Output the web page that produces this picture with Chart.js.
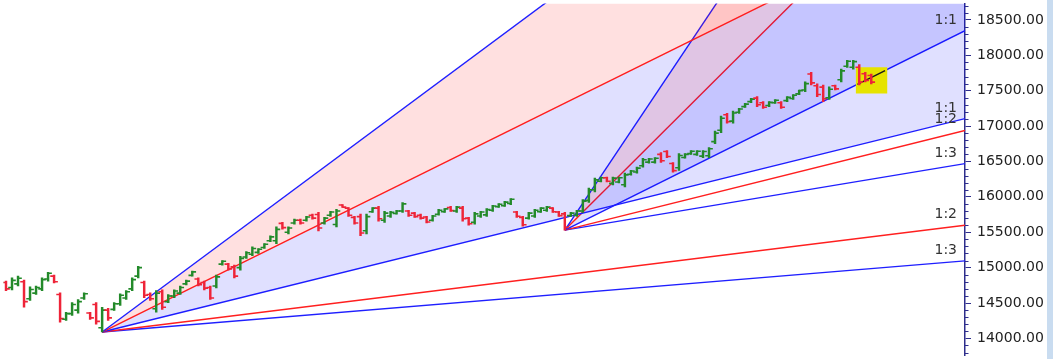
<!DOCTYPE html>
<html>
<head>
<meta charset="utf-8">
<script src="https://cdn.jsdelivr.net/npm/chart.js@4.4.1/dist/chart.umd.min.js"></script>
<style>
    html, body { margin: 0; padding: 0; background: #c9dcf0; }
    #wrap { width: 1047px; height: 359px; background: #ffffff; }
</style>
</head>
<body>
<div id="wrap"><canvas id="gannChart"></canvas></div>
<script>
// Barras OHLC (indice = barra)
const opens = [14680, 14790, 14720, 14770, 14800, 14560, 14640, 14700, 14840, 14880,
    14620, 14270, 14350, 14400, 14570, 14360, 14480, 14150, 14400, 14410,
    14490, 14570, 14700, 14880, 14790, 14620, 14420, 14660, 14520, 14600,
    14640, 14770, 14890, 14840, 14790, 14720, 14740, 15050, 15050, 15010,
    15000, 15150, 15190, 15215, 15285, 15380, 15380, 15625, 15500, 15630,
    15670, 15670, 15740, 15750, 15630, 15740, 15610, 15885, 15840, 15710,
    15720, 15520, 15790, 15840, 15670, 15730, 15765, 15800, 15800, 15770,
    15740, 15715, 15670, 15755, 15790, 15850, 15800, 15840, 15700, 15640,
    15730, 15745, 15810, 15860, 15875, 15905, 15785, 15710, 15700, 15730,
    15790, 15810, 15840, 15785, 15760, 15735, 15740, 15800, 15950, 16100,
    16220, 16270, 16190, 16210, 16170, 16320, 16350, 16440, 16490, 16490,
    16600, 16640, 16470, 16410, 16555, 16610, 16600, 16575, 16580, 16780,
    16940, 17160, 17070, 17195, 17275, 17345, 17395, 17330, 17290, 17330,
    17330, 17360, 17390, 17455, 17510, 17735, 17570, 17550, 17400, 17570,
    17655, 17845, 17830, 17830, 17740, 17715];
const highs = [14855, 14810, 14855, 14880, 14825, 14730, 14740, 14855, 14935, 14895,
    14645, 14370, 14505, 14550, 14645, 14370, 14505, 14440, 14425, 14505,
    14630, 14675, 14855, 15020, 14810, 14645, 14675, 14685, 14620, 14685,
    14740, 14825, 14950, 14855, 14810, 14740, 14895, 15100, 15060, 15035,
    15160, 15225, 15295, 15270, 15340, 15450, 15575, 15640, 15575, 15685,
    15685, 15725, 15755, 15780, 15710, 15795, 15825, 15890, 15850, 15725,
    15755, 15755, 15850, 15865, 15795, 15795, 15810, 15920, 15810, 15780,
    15755, 15725, 15740, 15825, 15835, 15865, 15865, 15865, 15710, 15780,
    15795, 15835, 15880, 15905, 15935, 15975, 15795, 15725, 15780, 15825,
    15850, 15865, 15850, 15795, 15780, 15780, 15810, 15960, 16125, 16265,
    16280, 16280, 16280, 16280, 16335, 16375, 16420, 16545, 16545, 16555,
    16625, 16655, 16485, 16610, 16610, 16655, 16655, 16655, 16695, 16930,
    17140, 17180, 17210, 17250, 17320, 17390, 17415, 17345, 17345, 17375,
    17345, 17415, 17445, 17510, 17625, 17760, 17595, 17580, 17555, 17580,
    17805, 17930, 17930, 17870, 17760, 17735];
const lows = [14605, 14675, 14685, 14740, 14440, 14535, 14620, 14675, 14810, 14785,
    14230, 14255, 14325, 14355, 14550, 14270, 14200, 14090, 14255, 14395,
    14465, 14550, 14675, 14855, 14575, 14535, 14370, 14410, 14505, 14575,
    14620, 14755, 14880, 14740, 14685, 14550, 14715, 15035, 14965, 14855,
    14965, 15130, 15170, 15200, 15270, 15365, 15340, 15545, 15475, 15615,
    15615, 15655, 15685, 15520, 15615, 15725, 15575, 15850, 15725, 15615,
    15450, 15475, 15780, 15655, 15640, 15710, 15755, 15780, 15725, 15710,
    15685, 15630, 15655, 15740, 15780, 15795, 15780, 15655, 15600, 15615,
    15710, 15725, 15795, 15850, 15865, 15890, 15710, 15585, 15685, 15710,
    15780, 15795, 15780, 15725, 15530, 15725, 15725, 15780, 15920, 16070,
    16210, 16210, 16170, 16195, 16140, 16305, 16335, 16420, 16475, 16475,
    16485, 16555, 16350, 16375, 16545, 16600, 16585, 16555, 16555, 16750,
    16905, 17040, 17040, 17180, 17265, 17330, 17275, 17250, 17275, 17320,
    17250, 17345, 17375, 17445, 17485, 17580, 17415, 17345, 17375, 17510,
    17625, 17830, 17805, 17580, 17625, 17595];
const closes = [14790, 14700, 14820, 14850, 14520, 14690, 14720, 14830, 14920, 14800,
    14280, 14350, 14480, 14520, 14630, 14290, 14240, 14400, 14290, 14490,
    14610, 14660, 14830, 15000, 14610, 14560, 14640, 14440, 14600, 14670,
    14720, 14810, 14940, 14760, 14710, 14570, 14870, 15090, 14980, 14880,
    15130, 15210, 15270, 15260, 15330, 15435, 15540, 15565, 15560, 15670,
    15630, 15715, 15700, 15560, 15700, 15785, 15800, 15855, 15740, 15630,
    15490, 15720, 15840, 15690, 15770, 15780, 15800, 15900, 15740, 15720,
    15700, 15645, 15730, 15810, 15830, 15805, 15855, 15690, 15620, 15760,
    15785, 15820, 15870, 15895, 15925, 15965, 15725, 15605, 15770, 15810,
    15840, 15855, 15790, 15735, 15570, 15770, 15800, 15940, 16100, 16240,
    16270, 16220, 16265, 16270, 16310, 16365, 16405, 16525, 16535, 16545,
    16510, 16570, 16370, 16585, 16600, 16645, 16645, 16640, 16680, 16900,
    17110, 17060, 17185, 17240, 17310, 17380, 17300, 17265, 17335, 17365,
    17265, 17405, 17435, 17500, 17600, 17610, 17445, 17385, 17520, 17525,
    17780, 17915, 17910, 17620, 17645, 17620];

// Eixo de preços
const yTicks = [14000, 14500, 15000, 15500, 16000, 16500, 17000, 17500, 18000, 18500];
const yMin = 13760;
const yMax = 18730;
const minorStep = 100;

// Leques de Gann: barra de origem, preço de origem, preço por barra (1:1)
const fanStarts = [17, 94];
const fanPrices = [14090, 15530];
const fanUnits = [21.0, 42.3];
const ratios = [3, 2, 1, 1 / 2, 1 / 3];
const ratioLabels = ['3:1', '2:1', '1:1', '1:2', '1:3'];

// Destaque amarelo nas ultimas barras
const highlightBars = [142.4, 147.7];
const highlightPrices = [17460, 17830];

const xMin = 0.6;
const xMax = 160.6;

const GREEN = '#238a2a';
const RED = '#ee2438';
const BLUE = '#1f1fff';
const LINE_RED = '#ff1f1f';
const AXIS = '#2e2e8c';
const FONT = '"DejaVu Sans", sans-serif';

function fanPrice(f, r, x) {
    return fanPrices[f] + r * fanUnits[f] * (x - fanStarts[f]);
}

// datasets dos leques
const fanDatasets = [];
fanStarts.forEach((start, f) => {
    ratios.forEach((r, k) => {
        let fill = false;
        let bg = 'transparent';
        if (k === 0) { fill = '+1'; bg = 'rgba(255, 0, 0, 0.12)'; }
        if (k === 1) { fill = '+1'; bg = 'rgba(0, 0, 255, 0.12)'; }
        fanDatasets.push({
            type: 'line',
            data: [{x: start, y: fanPrices[f]}, {x: xMax, y: fanPrice(f, r, xMax)}],
            borderColor: (k % 2 === 0) ? BLUE : LINE_RED,
            backgroundColor: bg,
            borderWidth: 1.4,
            pointRadius: 0,
            fill: fill,
            order: 10
        });
    });
});

const barColors = closes.map((c, i) => c >= opens[i] ? GREEN : RED);
const tickOffset = 0.3;

const datasets = fanDatasets.concat([
    {
        type: 'line',
        data: [{x: highlightBars[0], y: highlightPrices[1]}, {x: highlightBars[1], y: highlightPrices[1]}],
        borderWidth: 0,
        borderColor: 'transparent',
        backgroundColor: '#e6e300',
        pointRadius: 0,
        fill: {value: highlightPrices[0]},
        order: 6
    },
    {
        type: 'line',
        data: [
            {x: highlightBars[0] + 0.3, y: fanPrice(1, 1, highlightBars[0] + 0.3)},
            {x: highlightBars[1] - 0.4, y: fanPrice(1, 1, highlightBars[1] - 0.4)}
        ],
        borderColor: '#1a1a1a',
        borderWidth: 1.4,
        pointRadius: 0,
        fill: false,
        order: 5
    },
    {
        type: 'bar',
        data: highs.map((h, i) => ({x: i, y: [lows[i], h]})),
        backgroundColor: barColors,
        barThickness: 1.8,
        grouped: false,
        order: 2
    },
    {
        type: 'line',
        data: opens.map((o, i) => ({x: i - tickOffset, y: o})),
        showLine: false,
        pointStyle: 'line',
        pointRadius: 2,
        pointHoverRadius: 2,
        pointBorderWidth: 1.6,
        pointBorderColor: barColors,
        order: 1
    },
    {
        type: 'line',
        data: closes.map((c, i) => ({x: i + tickOffset, y: c})),
        showLine: false,
        pointStyle: 'line',
        pointRadius: 2,
        pointHoverRadius: 2,
        pointBorderWidth: 1.6,
        pointBorderColor: barColors,
        order: 1
    }
]);

// rotulos 1:1, 1:2 ... no fim das linhas
const fanLabels = {
    id: 'fanLabels',
    afterDatasetsDraw(chart) {
        const {ctx, chartArea, scales: {y}} = chart;
        ctx.save();
        ctx.font = '14px ' + FONT;
        ctx.fillStyle = '#333333';
        ctx.textAlign = 'right';
        ctx.textBaseline = 'alphabetic';
        fanStarts.forEach((s, f) => {
            ratios.forEach((r, k) => {
                const py = y.getPixelForValue(fanPrice(f, r, xMax));
                if (py < chartArea.top + 14 || py > chartArea.bottom) return;
                ctx.fillText(ratioLabels[k], chartArea.right - 8, py - 7);
            });
        });
        ctx.restore();
    }
};

// tracos menores do eixo
const minorTicks = {
    id: 'minorTicks',
    afterDraw(chart) {
        const {ctx, scales: {y}} = chart;
        ctx.save();
        ctx.strokeStyle = AXIS;
        ctx.lineWidth = 1;
        ctx.beginPath();
        for (let v = Math.ceil(yMin / minorStep) * minorStep; v <= yMax; v += minorStep) {
            if (v % 500 === 0) continue;
            const py = Math.round(y.getPixelForValue(v)) + 0.5;
            ctx.moveTo(y.left, py);
            ctx.lineTo(y.left + 3.5, py);
        }
        ctx.stroke();
        ctx.restore();
    }
};

new Chart(document.getElementById('gannChart'), {
    type: 'bar',
    data: { datasets: datasets },
    options: {
        responsive: true,
        maintainAspectRatio: false,
        animation: false,
        events: [],
        layout: { padding: 0 },
        plugins: {
            legend: { display: false },
            tooltip: { enabled: false }
        },
        scales: {
            x: {
                type: 'linear',
                min: xMin,
                max: xMax,
                offset: false,
                display: false
            },
            y: {
                type: 'linear',
                position: 'right',
                min: yMin,
                max: yMax,
                border: { color: AXIS, width: 1.5 },
                grid: {
                    drawOnChartArea: false,
                    drawTicks: true,
                    tickLength: 6,
                    tickColor: AXIS,
                    tickWidth: 1
                },
                ticks: {
                    padding: 6,
                    color: '#222222',
                    font: { family: FONT, size: 14 },
                    callback: (v) => v.toFixed(2)
                },
                afterBuildTicks: (scale) => {
                    scale.ticks = yTicks.map(v => ({value: v}));
                },
                afterFit: (scale) => {
                    scale.width = 82;
                    scale.paddingTop = 0;
                    scale.paddingBottom = 0;
                }
            }
        }
    },
    plugins: [fanLabels, minorTicks]
});
</script>
</body>
</html>
